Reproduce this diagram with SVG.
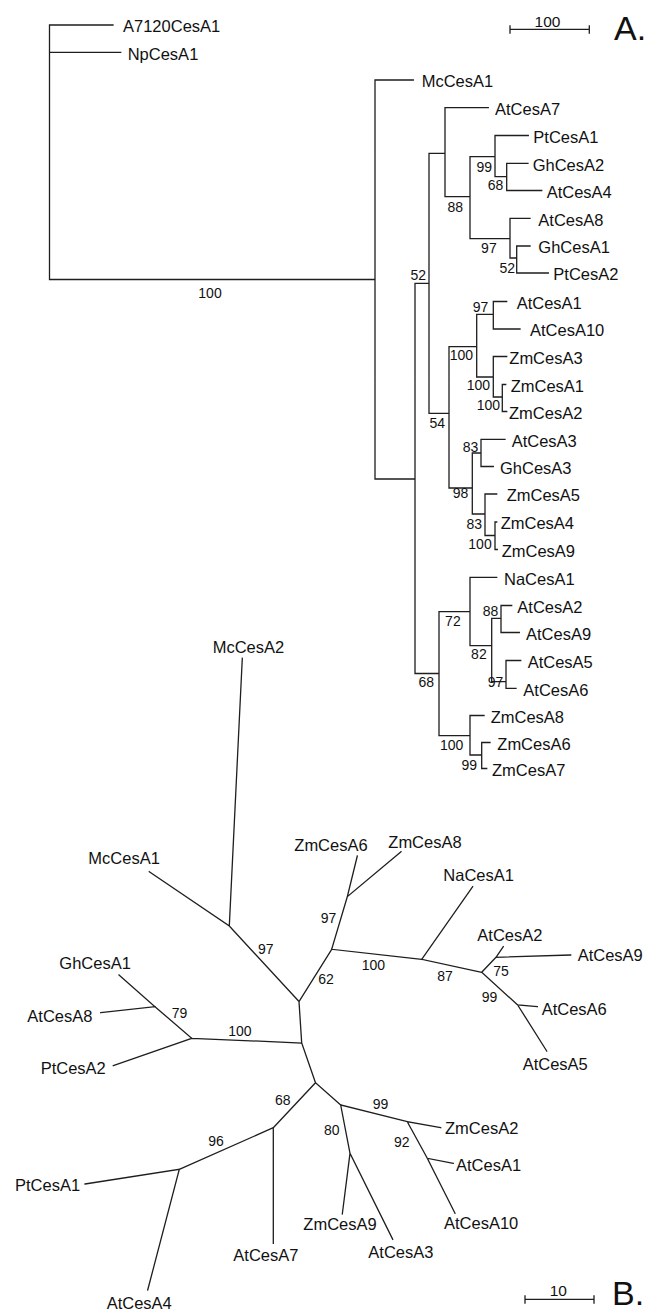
<svg xmlns="http://www.w3.org/2000/svg" width="647" height="1313" viewBox="0 0 647 1313">
<style>
.br{fill:none;stroke:#1e1e1e;stroke-width:1.3;stroke-linecap:square}
.lf{font-family:"Liberation Sans",Arial,sans-serif;font-size:16.5px;fill:#111}
.bs{font-family:"Liberation Sans",Arial,sans-serif;font-size:14px;fill:#111}
.sc{font-family:"Liberation Sans",Arial,sans-serif;font-size:15.5px;fill:#111}
.big{font-family:"Liberation Sans",Arial,sans-serif;font-size:34px;fill:#111}
</style>
<rect width="647" height="1313" fill="#fff"/>
<g id="connectors">
<path class="br" d="M49.5 25V279.5 M49.5 25H113 M49.5 52.3H120.7 M49.5 279.5H375
M375 80V479 M375 80H413.3 M375 479H415
M415 283.3V673.5 M415 283.3H429 M415 673.5H439
M429 153.3V413.3 M429 153.3H445 M429 413.3H449
M445 107.7V196.7 M445 107.7H488.3 M445 196.7H470
M470 156.7V238.7 M470 156.7H495 M470 238.7H510
M495 135.5V176.7 M495 135.5H528.3 M495 176.7H506.7
M506.7 163.3V190.5 M506.7 163.3H528 M506.7 190.5H541.7
M510 218.3V258 M510 218.3H530 M510 258H516.7
M516.7 246V273 M516.7 246H530 M516.7 273H548.3
M449 346.7V488 M449 346.7H476.7 M449 488H472.3
M476.7 314.3V377 M476.7 314.3H493.3 M476.7 377H493.3
M493.3 301.5V329 M493.3 301.5H506.7 M493.3 329H520
M493.3 356.5V397 M493.3 356.5H506.7 M493.3 397H502.3
M502.3 384.5V411.5 M502.3 384.5H505.7 M502.3 411.5H506.7
M472.3 453V514 M472.3 453H481 M472.3 514H485
M481 439.3V466.5 M481 439.3H505 M481 466.5H493.3
M485 494V535.5 M485 494H496.7 M485 535.5H495
M495 522V549.5 M495 522H496.7 M495 549.5H497.3
M439 611.7V735.7 M439 611.7H470 M439 735.7H470
M470 577.3V645.7 M470 577.3H496.7 M470 645.7H491.7
M491.7 618.3V681.7 M491.7 618.3H501 M491.7 681.7H506
M501 605.5V632.5 M501 605.5H511.7 M501 632.5H519.3
M506 660.5V688.3 M506 660.5H520.7 M506 688.3H516
M470 715.5V755 M470 715.5H484 M470 755H481.7
M481.7 742.5V768.5 M481.7 742.5H490 M481.7 768.5H486.7"/>
<path class="br" d="M510 29.3H589.3 M510 26V33 M589.3 26V33"/>
<path class="br" d="M229.3 926L242.3 658.3 M229.3 926L149.3 871.7 M229.3 926L299 1001.5
M299 1001.5L331.7 949.3 M299 1001.5L301.7 1043
M331.7 949.3L347.3 896.7 M347.3 896.7L357.3 856 M347.3 896.7L401 851.7
M331.7 949.3L421.7 959.3 M421.7 959.3L472.7 886.7 M421.7 959.3L481.7 972.3
M481.7 972.3L496 957.3 M496 957.3L503.3 946.7 M496 957.3L570.7 955
M481.7 972.3L517.7 1005 M517.7 1005L537.3 1006.7 M517.7 1005L546.7 1051
M301.7 1043L191.7 1038.3 M191.7 1038.3L113.3 1065.7 M191.7 1038.3L155 1006.7
M155 1006.7L119 975 M155 1006.7L100.7 1012.7
M301.7 1043L315.5 1082.7 M315.5 1082.7L273.3 1127.7 M273.3 1127.7L273.3 1243.3
M273.3 1127.7L179.3 1169.3 M179.3 1169.3L85 1184 M179.3 1169.3L147.7 1290
M315.5 1082.7L340.7 1105 M340.7 1105L407.3 1121.7 M407.3 1121.7L440.7 1127.7
M407.3 1121.7L427.3 1158.3 M427.3 1158.3L453.3 1163.3 M427.3 1158.3L455 1213.3
M340.7 1105L350 1153.3 M350 1153.3L342.3 1214 M350 1153.3L392.7 1239.3"/>
<path class="br" d="M525 1299.3H594 M525 1296V1303 M594 1296V1303"/>
</g>
<g id="tree-a-leaves">
<g id="a-A7120CesA1"><text class="lf" x="123" y="32.3">A7120CesA1</text></g>
<g id="a-NpCesA1"><text class="lf" x="127.7" y="59.5">NpCesA1</text></g>
<g id="a-McCesA1"><text class="lf" x="421.7" y="87.3">McCesA1</text></g>
<g id="a-AtCesA7"><text class="lf" x="495" y="114.8">AtCesA7</text></g>
<g id="a-PtCesA1"><text class="lf" x="533.3" y="142.7">PtCesA1</text></g>
<g id="a-GhCesA2"><text class="lf" x="532.7" y="170.5">GhCesA2</text></g>
<g id="a-AtCesA4"><text class="lf" x="546.7" y="197.7">AtCesA4</text></g>
<g id="a-AtCesA8"><text class="lf" x="538.3" y="225.5">AtCesA8</text></g>
<g id="a-GhCesA1"><text class="lf" x="538.3" y="253.2">GhCesA1</text></g>
<g id="a-PtCesA2"><text class="lf" x="553.3" y="280.2">PtCesA2</text></g>
<g id="a-AtCesA1"><text class="lf" x="516.7" y="308.7">AtCesA1</text></g>
<g id="a-AtCesA10"><text class="lf" x="530" y="336.2">AtCesA10</text></g>
<g id="a-ZmCesA3"><text class="lf" x="509.3" y="363.7">ZmCesA3</text></g>
<g id="a-ZmCesA1"><text class="lf" x="510.7" y="391.7">ZmCesA1</text></g>
<g id="a-ZmCesA2"><text class="lf" x="509" y="418.7">ZmCesA2</text></g>
<g id="a-AtCesA3"><text class="lf" x="511.7" y="446.5">AtCesA3</text></g>
<g id="a-GhCesA3"><text class="lf" x="500" y="473.7">GhCesA3</text></g>
<g id="a-ZmCesA5"><text class="lf" x="506.7" y="501.2">ZmCesA5</text></g>
<g id="a-ZmCesA4"><text class="lf" x="500.7" y="529.2">ZmCesA4</text></g>
<g id="a-ZmCesA9"><text class="lf" x="501.7" y="556.7">ZmCesA9</text></g>
<g id="a-NaCesA1"><text class="lf" x="504" y="584.5">NaCesA1</text></g>
<g id="a-AtCesA2"><text class="lf" x="517.3" y="612.7">AtCesA2</text></g>
<g id="a-AtCesA9"><text class="lf" x="526" y="639.7">AtCesA9</text></g>
<g id="a-AtCesA5"><text class="lf" x="527.7" y="667.7">AtCesA5</text></g>
<g id="a-AtCesA6"><text class="lf" x="523.3" y="695.5">AtCesA6</text></g>
<g id="a-ZmCesA8"><text class="lf" x="490.7" y="722.7">ZmCesA8</text></g>
<g id="a-ZmCesA6"><text class="lf" x="497.3" y="749.7">ZmCesA6</text></g>
<g id="a-ZmCesA7"><text class="lf" x="492" y="775.7">ZmCesA7</text></g>
</g>
<g id="tree-a-support">
<text class="bs" x="210" y="297.7" text-anchor="middle">100</text>
<text class="bs" x="426" y="280" text-anchor="end">52</text>
<text class="bs" x="463" y="211.7" text-anchor="end">88</text>
<text class="bs" x="492" y="171.7" text-anchor="end">99</text>
<text class="bs" x="503.3" y="190" text-anchor="end">68</text>
<text class="bs" x="496.7" y="253.3" text-anchor="end">97</text>
<text class="bs" x="515" y="273.3" text-anchor="end">52</text>
<text class="bs" x="445" y="428.3" text-anchor="end">54</text>
<text class="bs" x="473" y="360" text-anchor="end">100</text>
<text class="bs" x="488.3" y="311.7" text-anchor="end">97</text>
<text class="bs" x="490" y="390" text-anchor="end">100</text>
<text class="bs" x="500" y="410" text-anchor="end">100</text>
<text class="bs" x="468.3" y="498" text-anchor="end">98</text>
<text class="bs" x="478.3" y="451.5" text-anchor="end">83</text>
<text class="bs" x="482" y="529" text-anchor="end">83</text>
<text class="bs" x="491.7" y="549.3" text-anchor="end">100</text>
<text class="bs" x="434" y="687.3" text-anchor="end">68</text>
<text class="bs" x="460.7" y="626" text-anchor="end">72</text>
<text class="bs" x="486.7" y="659.3" text-anchor="end">82</text>
<text class="bs" x="498.3" y="616" text-anchor="end">88</text>
<text class="bs" x="503.3" y="687.3" text-anchor="end">97</text>
<text class="bs" x="463.3" y="750" text-anchor="end">100</text>
<text class="bs" x="477" y="770" text-anchor="end">99</text>
</g>
<g id="scale-a"><text class="sc" x="547.5" y="26.7" text-anchor="middle">100</text><text class="big" x="614" y="40">A.</text></g>
<g id="tree-b-leaves">
<g id="b-McCesA2"><text class="lf" x="212.7" y="653.3">McCesA2</text></g>
<g id="b-McCesA1"><text class="lf" x="88.3" y="864.3">McCesA1</text></g>
<g id="b-ZmCesA6"><text class="lf" x="294.3" y="850.7">ZmCesA6</text></g>
<g id="b-ZmCesA8"><text class="lf" x="388.3" y="848.3">ZmCesA8</text></g>
<g id="b-NaCesA1"><text class="lf" x="443.3" y="880.7">NaCesA1</text></g>
<g id="b-AtCesA2"><text class="lf" x="477.3" y="940.7">AtCesA2</text></g>
<g id="b-AtCesA9"><text class="lf" x="577.7" y="961">AtCesA9</text></g>
<g id="b-AtCesA6"><text class="lf" x="541.7" y="1015">AtCesA6</text></g>
<g id="b-AtCesA5"><text class="lf" x="522.7" y="1070">AtCesA5</text></g>
<g id="b-GhCesA1"><text class="lf" x="59.3" y="969.3">GhCesA1</text></g>
<g id="b-AtCesA8"><text class="lf" x="27.3" y="1021.7">AtCesA8</text></g>
<g id="b-PtCesA2"><text class="lf" x="40.7" y="1074">PtCesA2</text></g>
<g id="b-PtCesA1"><text class="lf" x="15" y="1191">PtCesA1</text></g>
<g id="b-AtCesA4"><text class="lf" x="106.7" y="1308.7">AtCesA4</text></g>
<g id="b-AtCesA7"><text class="lf" x="233.3" y="1261">AtCesA7</text></g>
<g id="b-ZmCesA9"><text class="lf" x="376.7" y="1229.5" text-anchor="end">ZmCesA9</text></g>
<g id="b-AtCesA3"><text class="lf" x="368.3" y="1257.7">AtCesA3</text></g>
<g id="b-ZmCesA2"><text class="lf" x="445" y="1134">ZmCesA2</text></g>
<g id="b-AtCesA1"><text class="lf" x="456" y="1171">AtCesA1</text></g>
<g id="b-AtCesA10"><text class="lf" x="444" y="1229.3">AtCesA10</text></g>
</g>
<g id="tree-b-support">
<text class="bs" x="258" y="954">97</text>
<text class="bs" x="318.3" y="984.3">62</text>
<text class="bs" x="320.7" y="922.7">97</text>
<text class="bs" x="361.7" y="970">100</text>
<text class="bs" x="437.3" y="981">87</text>
<text class="bs" x="493.3" y="976">75</text>
<text class="bs" x="481.7" y="1001.7">99</text>
<text class="bs" x="228.3" y="1036">100</text>
<text class="bs" x="171.7" y="1018.3">79</text>
<text class="bs" x="275" y="1105">68</text>
<text class="bs" x="208.3" y="1146">96</text>
<text class="bs" x="372.7" y="1109.3">99</text>
<text class="bs" x="394" y="1147.3">92</text>
<text class="bs" x="324" y="1135">80</text>
</g>
<g id="scale-b"><text class="sc" x="558.3" y="1296" text-anchor="middle">10</text><text class="big" x="612" y="1305">B.</text></g>
</svg>
